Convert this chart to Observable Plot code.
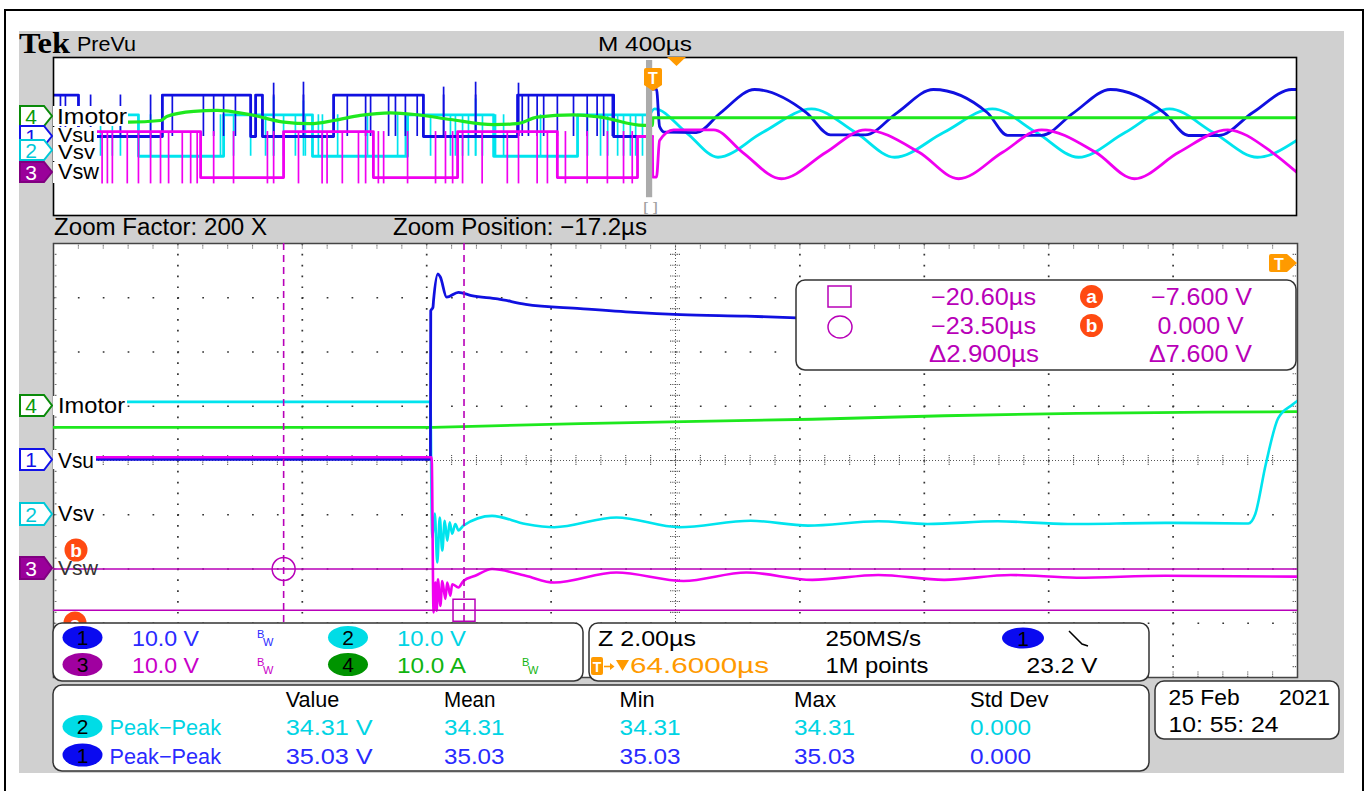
<!DOCTYPE html>
<html><head><meta charset="utf-8">
<script src="https://cdn.jsdelivr.net/npm/d3@7"></script>
<script src="https://cdn.jsdelivr.net/npm/@observablehq/plot@0.6"></script>
<style>
html,body{margin:0;padding:0;background:#fff;width:1368px;height:791px;overflow:hidden;font-family:"Liberation Sans",Arial,sans-serif;}
#frame{position:absolute;left:4px;top:9px;width:1360px;height:820px;border:2px solid #000;box-sizing:border-box;}
#scope{position:absolute;left:19px;top:31px;width:1325px;height:742px;background:#d0d0d0;}
#preview{position:absolute;left:53px;top:57px;width:1243px;height:158px;z-index:2;}
#main{position:absolute;left:53px;top:243px;width:1244px;height:434px;z-index:2;}
#overlay{position:absolute;left:0;top:0;width:1368px;height:791px;z-index:5;pointer-events:none;}
svg{display:block;}
</style></head><body>
<div id="frame"></div>
<div id="scope"></div>
<div id="preview"></div>
<div id="main"></div>
<div id="overlay"></div>
<script>
// ================= DATA =================
// Channel settings
const voltsPerDiv = 10;
const channelOffsetDiv = {vsu: 0, vsv: -1, vsw: -2, imotor: 1};

// ---- Zoomed (main) window: time in µs relative to trigger (Z 2.00µs/div, zoom position -17.2µs)
const mainTimeRange = [-27.2, -7.2];
const mainVsu = [[-27.2,0.2],[-21.14,0.2],[-21.135,27.6],[-21.10,28.2],[-21.09,29.5],[-21.02,34.4],[-20.98,33.8],[-20.88,30.1],[-20.69,31.0],[-20.48,30.4],[-20.06,29.8],[-19.61,28.8],[-18.73,28.0],[-17.86,27.3],[-17.12,26.9],[-16.06,26.6],[-15.25,26.3]];
const mainVsv = [[-27.2,20.8],[-21.14,20.8],[-21.12,0],[-21.11,-4.2],[-21.07,0.2],[-21.03,-8.8],[-20.99,-0.5],[-20.95,-6.6],[-20.91,-1.1],[-20.87,-4.8],[-20.83,-1.4],[-20.79,-3.5],[-20.74,-1.7],[-20.69,-2.9],[-20.61,-2.0],[-20.15,-0.2],[-19.61,-1.7],[-19.15,-2.3],[-18.15,-0.5],[-17.14,-2.3],[-15.99,-1.1],[-15.07,-2.0],[-13.94,-1.2],[-13.15,-1.7],[-12.02,-1.2],[-10.89,-1.7],[-9.33,-1.5],[-7.99,-1.6],[-7.88,0.1],[-7.71,9.3],[-7.51,17.8],[-7.28,20.3],[-7.2,21.0]];
const mainVsw = [[-27.2,20.6],[-21.12,20.6],[-21.09,-8.0],[-21.06,-2.5],[-21.04,-7.7],[-21.02,-1.9],[-20.98,-6.8],[-20.95,-2.2],[-20.90,-5.5],[-20.87,-2.5],[-20.82,-4.9],[-20.79,-2.8],[-20.69,-3.4],[-20.61,-2.2],[-20.42,-1.25],[-20.15,0],[-19.61,-1.25],[-19.15,-2.5],[-18.15,-0.65],[-17.07,-2.2],[-16.06,-0.65],[-15.0,-2.0],[-13.94,-1.1],[-12.88,-2.0],[-11.81,-1.1],[-10.75,-1.6],[-9.33,-1.25],[-7.2,-1.4]];
const mainImotor = [[-27.2,-3.9],[-21.1,-3.9],[-20.16,-3.6],[-18.73,-3.2],[-16.86,-2.8],[-15.0,-2.4],[-12.88,-1.75],[-10.75,-1.3],[-8.63,-1.1],[-7.2,-1.0]];
// Cursors (on ch3)
const cursorTimes = [-20.60, -23.50];      // square, circle
const cursorVolts = [-7.600, 0.000];       // a, b

// ---- PreVu (whole record, M 400µs/div), time in µs relative to trigger
const previewTimeRange = [-1935.4, 2064.6];
const zoomWindow = [-27.2, -7.2];
const preVsuSteps = [[-1935,21],[-1855,0],[-1585,21],[-1301,0],[-1285,21],[-1263,0],[-1034,21],[-745,0],[-442,21],[-133,0],[-17,0]];
const preVsuDips = [-1913,-1897,-1816,-1720,-1623,-1553,-1453,-1420,-1388,-1350,-1227,-1131,-990,-931,-915,-857,-835,-803,-765,-680,-577,-439,-427,-407,-379,-358,-314,-262,-218,-186,-165,-137];
const preVsuSpikes = [[-1227,27],[-1131,27.5],[-680,25],[-577,27.5],[-439,27]];
const preVsuWave = [[-17,0],[-16,24],[5,24],[15,5],[31,2.2],[133,2.0],[211,12],[321,23.8],[488,12],[565,0.8],[677,0.8],[779,12],[896,23.8],[1070,12],[1135,0.6],[1244,0.6],[1347,12],[1466,23.8],[1639,12],[1717,0.5],[1814,0.5],[1923,12],[2050,23.8],[2065,23.8]];

const preVsvSteps = [[-1935,21],[-1662,0],[-1388,21],[-1102,0],[-796,21],[-519,0],[-249,21],[-17,21]];
const preVsvDips = [-1816,-1784,-1746,-1720,-1623,-1398,-1356,-1301,-1253,-1227,-1195,-1157,-1125,-1083,-1070,-1021,-925,-828,-803,-722,-658,-642,-619,-600,-577,-555,-513,-487,-368,-217,-175,-152,-120,-101,-79,-62,-40];
const preVsvSpikes = [[-1227,30],[-1131,28],[-577,29]];
const preVsvWave = [[-17,21],[-1,24],[101,12],[203,-0.5],[346,12],[504,24],[646,12],[771,-0.5],[929,12],[1086,24],[1228,12],[1363,-0.5],[1513,12],[1656,24],[1797,12],[1939,-0.5],[2065,8]];

const preVswSteps = [[-1935,22.5],[-1462,-0.8],[-1195,22.5],[-906,-0.8],[-635,22.5],[-314,-0.8],[-56,20],[-8,20]];
const preVswDips = [-1779,-1762,-1746,-1698,-1662,-1623,-1591,-1565,-1521,-1494,-1473,-1420,-1356,-1247,-1227,-1147,-1071,-1055,-1006,-954,-931,-890,-873,-796,-706,-674,-651,-619,-556,-475,-439,-379,-346,-288,-218,-153,-101,-73];
const preVswWave = [[-8,20],[-7,-0.6],[5,-0.6],[15,18],[60,23.4],[189,23.4],[282,12],[407,-1.4],[551,12],[677,23.4],[850,12],[977,-1.4],[1119,12],[1244,23.4],[1418,12],[1543,-1.4],[1686,12],[1843,23.4],[1986,12],[2065,1.9]];

const preImotor = [[-1935,-2.5],[-1693,-2.7],[-1591,-1.9],[-1569,0.3],[-1484,2.7],[-1409,3.2],[-1301,1.0],[-1194,-2.7],[-1108,-3.5],[-1034,-1.9],[-948,0.7],[-851,2.0],[-765,1.0],[-658,-1.4],[-519,-4.0],[-443,-3.5],[-379,-0.2],[-262,1.0],[-175,-0.2],[-37,-4.4],[-8,-4.4],[-7,-0.5],[2065,-0.5]];

// ---- Text readouts
const channelNames = ["Vsu","Vsv","Vsw","Imotor"];
const scaleReadouts = ["10.0 V","10.0 V","10.0 V","10.0 A"];
const timebaseReadouts = ["Z 2.00µs","250MS/s","64.6000µs","1M points","23.2 V"];
const cursorReadouts = ["−20.60µs","−23.50µs","Δ2.900µs","−7.600 V","0.000 V","Δ7.600 V"];
const measurementHeaders = ["Value","Mean","Min","Max","Std Dev"];
const measurementRows = [
  {ch: "2", name: "Peak−Peak", values: ["34.31 V","34.31","34.31","34.31","0.000"]},
  {ch: "1", name: "Peak−Peak", values: ["35.03 V","35.03","35.03","35.03","0.000"]}
];
const dateStamp = ["25 Feb","2021","10: 55: 24"];

// ================= STYLE =================
const COL = {vsu:"#1010e0", vsv:"#00e4ee", vsw:"#f000f0", imotor:"#1ee81e", cursor:"#b800b8"};
const yOf = ch => d => channelOffsetDiv[ch] + d[1] / voltsPerDiv;
const lvl = (ch, v) => channelOffsetDiv[ch] + v / voltsPerDiv;

// ================= MAIN (zoomed) PLOT =================
const t0 = mainTimeRange[0], t1 = mainTimeRange[1], tc = (t0 + t1) / 2;
const gridX = d3.range(1, 10).filter(i => i !== 5).map(i => t0 + 2 * i);
const gridY = [-3, -2, -1, 1, 2, 3];
const fineX = d3.range(0, 51).map(k => t0 + 0.4 * k);
const fineY = d3.range(0, 41).map(k => -4 + 0.2 * k);
const tickSty = {stroke: "#555", strokeWidth: 1.1, strokeDasharray: "1.2,1"};

const mainPlot = Plot.plot({
  width: 1244, height: 434, margin: 0,
  x: {domain: mainTimeRange, axis: null},
  y: {domain: [-4, 4], axis: null},
  style: {background: "white", overflow: "visible", maxWidth: "none"},
  marks: [
    Plot.ruleX(gridX, {stroke: "#333", strokeWidth: 1.7, strokeDasharray: "1.7,9.15"}),
    Plot.ruleY(gridY, {stroke: "#333", strokeWidth: 1.7, strokeDasharray: "1.7,23.18"}),
    Plot.ruleX([tc], {stroke: "#555", strokeWidth: 1, strokeDasharray: "1,2"}),
    Plot.ruleY([0], {stroke: "#555", strokeWidth: 1, strokeDasharray: "1,2"}),
    Plot.ruleX(fineX, {y1: -0.09, y2: 0.09, ...tickSty}),
    Plot.ruleY(fineY, {x1: tc - 0.08, x2: tc + 0.08, ...tickSty}),
    Plot.ruleX(fineX, {y1: 4, y2: 3.9, ...tickSty}),
    Plot.ruleX(fineX, {y1: -4, y2: -3.9, ...tickSty}),
    Plot.ruleY(fineY, {x1: t0, x2: t0 + 0.07, ...tickSty}),
    Plot.ruleY(fineY, {x1: t1 - 0.07, x2: t1, ...tickSty}),
    Plot.frame({stroke: "#444", strokeWidth: 1.5}),
    Plot.line(mainImotor, {x: d => d[0], y: yOf("imotor"), stroke: COL.imotor, strokeWidth: 2.8, clip: true}),
    Plot.line(mainVsv, {x: d => d[0], y: yOf("vsv"), stroke: COL.vsv, strokeWidth: 2.6, curve: "monotone-x", clip: true}),
    Plot.line(mainVsu, {x: d => d[0], y: yOf("vsu"), stroke: COL.vsu, strokeWidth: 2.8, curve: "monotone-x", clip: true}),
    Plot.line(mainVsw, {x: d => d[0], y: yOf("vsw"), stroke: COL.vsw, strokeWidth: 2.6, curve: "monotone-x", clip: true}),
    Plot.ruleX(cursorTimes, {stroke: COL.cursor, strokeWidth: 1.6, strokeDasharray: "7,5"}),
    Plot.ruleY(cursorVolts, {y: v => lvl("vsw", v), stroke: COL.cursor, strokeWidth: 1.5}),
    Plot.dot([[cursorTimes[1], cursorVolts[1]]], {x: d => d[0], y: yOf("vsw"), r: 11.5, symbol: "circle", stroke: COL.cursor, strokeWidth: 1.5, fill: "none"}),
    Plot.dot([[cursorTimes[0], cursorVolts[0]]], {x: d => d[0], y: yOf("vsw"), r: 12.4, symbol: "square", stroke: COL.cursor, strokeWidth: 1.5, fill: "none"})
  ]
});
document.getElementById("main").appendChild(mainPlot);

// ================= PREVU PLOT =================
function pwmMarks(ch, steps, dips, spikes, wave, lo, hi, color) {
  const m = [
    Plot.line(steps, {x: d => d[0], y: yOf(ch), curve: "step-after", stroke: color, strokeWidth: 2.8, clip: true}),
    Plot.ruleX(dips, {x: d => d, y1: () => lvl(ch, lo), y2: () => lvl(ch, hi), stroke: color, strokeWidth: 1.7, clip: true}),
    Plot.line(wave, {x: d => d[0], y: yOf(ch), curve: "monotone-x", stroke: color, strokeWidth: 2.8, clip: true})
  ];
  if (spikes) m.push(Plot.ruleX(spikes, {x: d => d[0], y1: () => lvl(ch, lo), y2: d => lvl(ch, d[1]), stroke: color, strokeWidth: 1.7, clip: true}));
  return m;
}
const previewPlot = Plot.plot({
  width: 1243, height: 158, margin: 0,
  x: {domain: previewTimeRange, axis: null},
  y: {domain: [-4, 4], axis: null},
  style: {background: "white", overflow: "visible", maxWidth: "none"},
  marks: [
    ...pwmMarks("vsv", preVsvSteps, preVsvDips, preVsvSpikes, preVsvWave, 0, 21, COL.vsv),
    ...pwmMarks("vsu", preVsuSteps, preVsuDips, preVsuSpikes, preVsuWave, 0, 21, COL.vsu),
    ...pwmMarks("vsw", preVswSteps, preVswDips, null, preVswWave, -4, 22.5, COL.vsw),
    Plot.line(preImotor, {x: d => d[0], y: yOf("imotor"), curve: "monotone-x", stroke: COL.imotor, strokeWidth: 3.2, clip: true}),
    Plot.rect([zoomWindow], {x1: d => d[0], x2: d => d[1], y1: -3.1, y2: 3.85, fill: "#ababab"}),
    Plot.frame({stroke: "#000", strokeWidth: 1.6})
  ]
});
document.getElementById("preview").appendChild(previewPlot);

// ================= OVERLAY (screen annotations) =================
const ov = d3.select("#overlay").append("svg").attr("width", 1368).attr("height", 791);
const FONT = '"Liberation Sans", Arial, Helvetica, sans-serif';
function txt(x, y, s, o = {}) {
  const t = ov.append("text").attr("x", x).attr("y", y).text(s)
    .attr("font-family", o.family || FONT).attr("font-size", o.size || 21)
    .attr("fill", o.fill || "#000");
  if (o.w) t.attr("textLength", o.w).attr("lengthAdjust", "spacingAndGlyphs");
  if (o.anchor) t.attr("text-anchor", o.anchor);
  if (o.weight) t.attr("font-weight", o.weight);
  return t;
}
function box(x, y, w, h, o = {}) {
  return ov.append("rect").attr("x", x).attr("y", y).attr("width", w).attr("height", h)
    .attr("rx", o.rx ?? 0).attr("fill", o.fill ?? "#fff")
    .attr("stroke", o.stroke ?? "none").attr("stroke-width", o.sw ?? 1.5);
}
function path(d, fill, stroke, sw) {
  return ov.append("path").attr("d", d).attr("fill", fill || "none").attr("stroke", stroke || "none").attr("stroke-width", sw || 1);
}
function marker(x, y, h, label, stroke, fill, tfill) {
  const w = 32, tip = 8;
  path(`M${x},${y}H${x + w - tip}L${x + w},${y + h / 2}L${x + w - tip},${y + h}H${x}Z`, fill, stroke, 2);
  txt(x + 11, y + h / 2 + 7.5, label, {size: 21, fill: tfill, anchor: "middle"});
}
function badge(cx, cy, fill, label, rx = 20, ry = 11.5) {
  ov.append("ellipse").attr("cx", cx).attr("cy", cy).attr("rx", rx).attr("ry", ry).attr("fill", fill);
  txt(cx, cy + 7.5, label, {size: 21, anchor: "middle"});
}
function cursorBadge(cx, cy, letter) {
  ov.append("circle").attr("cx", cx).attr("cy", cy).attr("r", 11.5).attr("fill", "#ff4a12");
  txt(cx, cy + 6.5, letter, {size: 19, fill: "#fff", anchor: "middle", weight: "bold"});
}
function bw(x, y, color) {
  txt(x, y, "B", {size: 11, fill: color});
  txt(x + 6, y + 8, "W", {size: 11, fill: color});
}

// Header
txt(19, 53, "Tek", {family: '"Liberation Serif","DejaVu Serif",serif', size: 29, weight: "bold", w: 51});
txt(77, 51, "PreVu", {size: 20, w: 59});
txt(598, 51, "M 400µs", {size: 20, w: 94});
txt(54, 235, "Zoom Factor: 200 X", {size: 23.5, w: 213});
txt(393, 235, "Zoom Position: −17.2µs", {size: 23.5, w: 254});
// preview triangle + trigger marker
path("M667,57L686,57L676.5,66Z", "#ff9a00");
path("M646,68H660Q662,68 662,70V85L653,91L644,85V70Q644,68 646,68Z", "#ff9a00");
txt(653, 84, "T", {size: 16, fill: "#fff", anchor: "middle", weight: "bold"});
txt(643, 211, "[ ]", {size: 13, fill: "#a0a0a0", w: 15});

// Preview channel labels
marker(20, 106, 20, "4", "#0a8a0a", "#fff", "#0a9a0a");
box(53, 106, 75, 20); txt(57, 124, channelNames[3], {size: 22.5, w: 70});
marker(20, 126, 20, "1", "#1212e8", "#fff", "#1212e8");
box(53, 127, 44, 15); txt(58, 142, channelNames[0], {size: 20, w: 37});
marker(20, 140, 20, "2", "#00c8d8", "#fff", "#00c8d8");
box(53, 142, 44, 19); txt(58, 159, channelNames[1], {size: 21, w: 37});
marker(20, 162, 20, "3", "#800080", "#9a009a", "#fff");
box(53, 162, 46, 21); txt(58, 178.5, channelNames[2], {size: 21.5, w: 41});

// Main channel labels
marker(20, 395, 21, "4", "#0a8a0a", "#fff", "#0a9a0a");
box(53, 396, 74, 19); txt(58, 413, channelNames[3], {size: 22.5, w: 67});
marker(20, 449, 21, "1", "#1212e8", "#fff", "#1212e8");
box(53, 450, 43, 19); txt(58, 467.5, channelNames[0], {size: 21.5, w: 36});
marker(20, 503, 22, "2", "#00c8d8", "#fff", "#00c8d8");
txt(58, 521, channelNames[1], {size: 21.5, w: 36});
marker(20, 557, 22, "3", "#800080", "#9a009a", "#fff");
txt(58, 575, channelNames[2], {size: 21, w: 40, fill: "#333"});
cursorBadge(76, 550, "b");
cursorBadge(75, 623, "a");

// Main trigger marker
path("M1271,254H1287L1297,263L1287,272H1271Q1269,272 1269,270V256Q1269,254 1271,254Z", "#ff9a00");
txt(1279, 270, "T", {size: 16, fill: "#fff", anchor: "middle", weight: "bold"});

// Cursor readout box
box(796, 280, 500, 90, {rx: 9, stroke: "#333"});
box(828, 286, 23, 21, {fill: "none", stroke: COL.cursor});
ov.append("ellipse").attr("cx", 840).attr("cy", 327).attr("rx", 12).attr("ry", 11).attr("fill", "none").attr("stroke", COL.cursor).attr("stroke-width", 1.5);
txt(931, 305, cursorReadouts[0], {size: 23, w: 105, fill: COL.cursor});
txt(931, 333.5, cursorReadouts[1], {size: 23, w: 105, fill: COL.cursor});
txt(929, 362, cursorReadouts[2], {size: 23, w: 110, fill: COL.cursor});
cursorBadge(1091.5, 296.5, "a");
cursorBadge(1091.5, 325.5, "b");
txt(1151, 305, cursorReadouts[3], {size: 23, w: 101, fill: COL.cursor});
txt(1157.6, 333.5, cursorReadouts[4], {size: 23, w: 86, fill: COL.cursor});
txt(1149, 362, cursorReadouts[5], {size: 23, w: 103, fill: COL.cursor});

// Channel scale box
box(53, 623, 530, 58, {rx: 9, stroke: "#333"});
badge(82.5, 637.5, "#0a0af0", "1");
txt(132, 645.5, scaleReadouts[0], {size: 22, w: 67, fill: "#2a2aff"});
bw(257, 638, "#2a2aff");
badge(348, 637.5, "#00dce6", "2");
txt(397, 645.5, scaleReadouts[1], {size: 22, w: 69, fill: "#00d4e4"});
badge(82.5, 664.5, "#a000a0", "3");
txt(132, 673, scaleReadouts[2], {size: 22, w: 67, fill: "#c800c8"});
bw(257, 666, "#c800c8");
badge(348, 664.5, "#009400", "4");
txt(397, 673, scaleReadouts[3], {size: 22, w: 69, fill: "#10b410"});
bw(522, 666, "#10b410");

// Timebase box
box(589, 623, 560, 58, {rx: 9, stroke: "#333"});
txt(598, 646, timebaseReadouts[0], {size: 22, w: 98});
txt(825.5, 646, timebaseReadouts[1], {size: 22, w: 95.5});
badge(1023, 638, "#0a0af0", "1", 21, 10.5);
path("M1069,631L1082,644L1088,646", "none", "#000", 1.5);
box(591, 657, 12, 18, {rx: 2, fill: "#ff9a00"});
txt(597, 672, "T", {size: 14, fill: "#fff", anchor: "middle", weight: "bold"});
path("M604,666.5H613", "none", "#ff9a00", 1.6);
path("M610,663L614.5,666.5L610,670Z", "#ff9a00");
path("M616,660H629L622.5,671Z", "#ff9a00");
txt(630, 673, timebaseReadouts[2], {size: 22, w: 139, fill: "#ff9a00"});
txt(825.5, 673, timebaseReadouts[3], {size: 22, w: 103});
txt(1026.5, 673, timebaseReadouts[4], {size: 22, w: 71});

// Measurement box
box(53, 685, 1096, 86, {rx: 9, stroke: "#333"});
const colX = [285.7, 444, 619.6, 794, 970];
const headW = [53.6, 51.5, 35, 42, 78.5];
const valW = [87, 60.5, 61, 61, 61];
measurementHeaders.forEach((h, i) => txt(colX[i], 707, h, {size: 22, w: headW[i]}));
measurementRows.forEach((r, j) => {
  const y = 735 + j * 28.5;
  const c = r.ch === "2" ? "#00d4e4" : "#2a2aff";
  badge(82.5, y - 8.5, r.ch === "2" ? "#00dce6" : "#0a0af0", r.ch);
  txt(109.5, y, r.name, {size: 22, w: 111.5, fill: c});
  r.values.forEach((v, i) => txt(colX[i], y, v, {size: 22, w: valW[i], fill: c}));
});

// Date box
box(1155, 681, 184, 58, {rx: 9, stroke: "#333"});
txt(1168.6, 705, dateStamp[0], {size: 22, w: 71});
txt(1279, 705, dateStamp[1], {size: 22, w: 51});
txt(1168.6, 732, dateStamp[2], {size: 22, w: 110});
</script>
</body></html>
